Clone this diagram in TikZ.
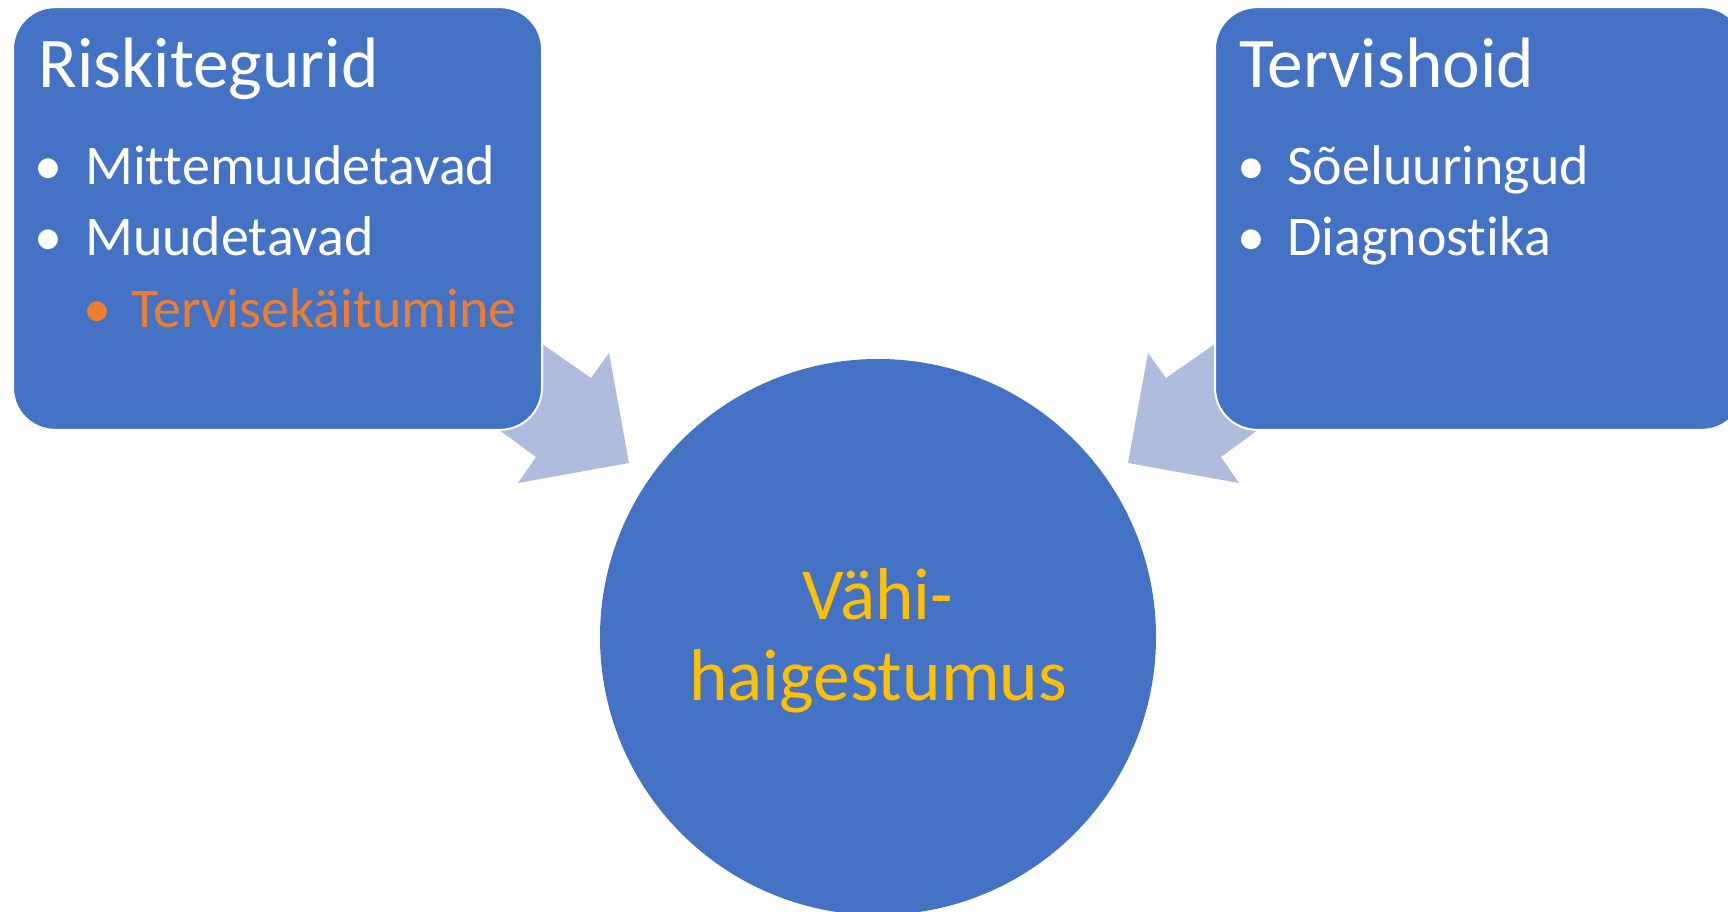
\documentclass[tikz,border=0pt]{standalone}
\usepackage{fontspec}
\setmainfont{Carlito}[Ligatures={NoCommon}]
\definecolor{boxblue}{RGB}{68,114,196}
\definecolor{arrowblue}{RGB}{175,188,222}
\definecolor{orangetxt}{RGB}{237,125,49}
\definecolor{yellowtxt}{RGB}{255,192,0}
\begin{document}
\begin{tikzpicture}[x=0.75pt,y=-0.75pt,
  box/.style={rectangle, fill=boxblue, draw=white, line width=1.5pt, rounded corners=31.5pt,
    minimum width=396.75pt, minimum height=317pt, inner sep=0pt},
  blockarrow/.style={fill=arrowblue},
  titletxt/.style={anchor=base west, inner sep=0pt, text=white, font=\fontsize{53.5}{60}\selectfont},
  bultxt/.style={anchor=base west, inner sep=0pt, text=white, font=\fontsize{42}{50}\selectfont},
  buldot/.style={anchor=base, inner sep=0pt, text=white, font=\fontsize{42}{50}\selectfont},
  circ/.style={circle, fill=boxblue, minimum size=417pt, inner sep=0pt},
  circtxt/.style={anchor=base, inner sep=0pt, text=yellowtxt, font=\fontsize{55}{61}\selectfont}]
\clip (0,0) rectangle (1728,912);
\fill[white] (0,0) rectangle (1728,912);
% block arrows (behind the boxes)
\fill[blockarrow] (463,289) -- (591,378) -- (609,353) -- (629,463) -- (518,483) -- (536,457) -- (420,372) -- cycle;
\fill[blockarrow] (1294,289) -- (1166,378) -- (1148,353) -- (1128,463) -- (1239,483) -- (1221,457) -- (1337,372) -- cycle;
% boxes
\node[box] (lbox) at (277.5,218.5) {};
\node[box] (rbox) at (1479.5,218.5) {};
% circle
\node[circ] (c) at (878,637) {};
% left box text
\node[titletxt] (lt) at (38,88) {Riskitegurid};
\node[buldot] (lb1d) at (48,185) {•};
\node[bultxt] (lb1) at (85,185) {Mittemuudetavad};
\node[buldot] (lb2d) at (48,256) {•};
\node[bultxt] (lb2) at (85,256) {Muudetavad};
\node[buldot, text=orangetxt] (lb3d) at (97,328) {•};
\node[bultxt, text=orangetxt] (lb3) at (131,328) {Tervisekäitumine};
% right box text
\node[titletxt] (rt) at (1239,88) {Tervishoid};
\node[buldot] (rb1d) at (1251,185) {•};
\node[bultxt] (rb1) at (1287,185) {Sõeluuringud};
\node[buldot] (rb2d) at (1251,256) {•};
\node[bultxt] (rb2) at (1287,256) {Diagnostika};
% circle text
\node[circtxt] (ct1) at (878,619) {Vähi-};
\node[circtxt] (ct2) at (878,700) {haigestumus};
\end{tikzpicture}
\end{document}
